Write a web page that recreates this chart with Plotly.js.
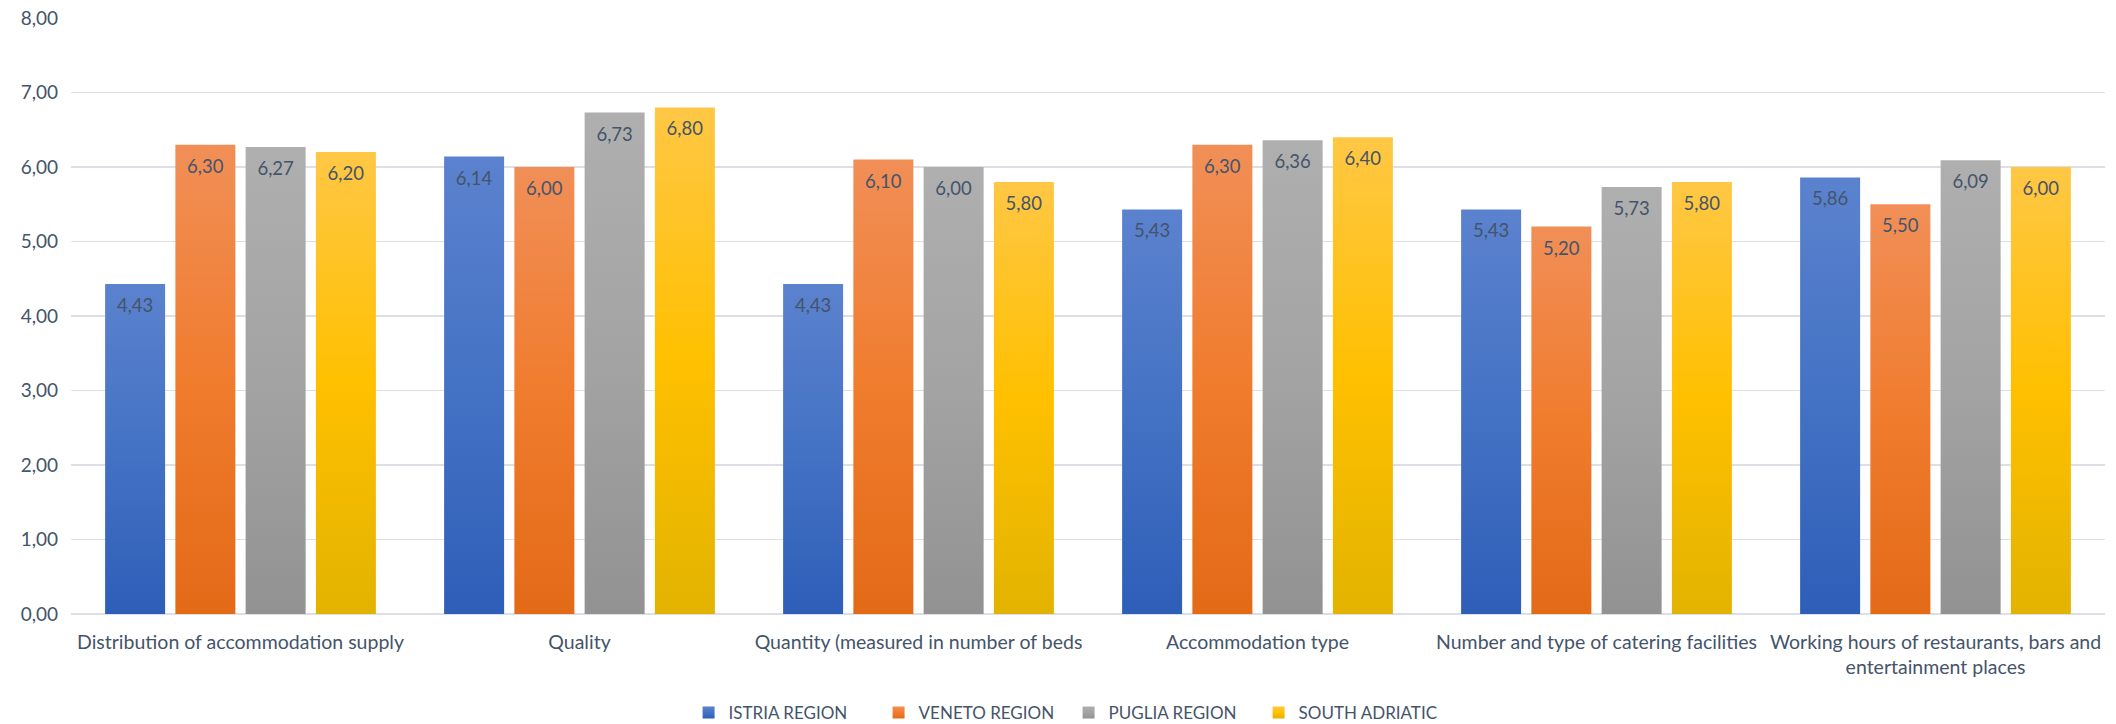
<!DOCTYPE html>
<html>
<head>
<meta charset="utf-8">
<script src="https://cdn.plot.ly/plotly-3.0.1.min.js"></script>
<style>
html,body{margin:0;padding:0;background:#fff;}
#chart{width:2116px;height:724px;}
</style>
</head>
<body>
<div id="chart"></div>
<script>
const categories = [
  "Distribution of accommodation supply",
  "Quality",
  "Quantity (measured in number of beds",
  "Accommodation type",
  "Number and type of catering facilities",
  "Working hours of restaurants, bars and<br>entertainment places"
];
const seriesNames = ["ISTRIA REGION", "VENETO REGION", "PUGLIA REGION", "SOUTH ADRIATIC"];
const istria = [4.43, 6.14, 4.43, 5.43, 5.43, 5.86];
const veneto = [6.30, 6.00, 6.10, 6.30, 5.20, 5.50];
const puglia = [6.27, 6.73, 6.00, 6.36, 5.73, 6.09];
const southAdriatic = [6.20, 6.80, 5.80, 6.40, 5.80, 6.00];
const yTicks = [0, 1, 2, 3, 4, 5, 6, 7, 8];

const seriesValues = [istria, veneto, puglia, southAdriatic];
const baseColors = ["#4472C4", "#ED7D31", "#A5A5A5", "#FFC000"];
const gradStops = [
  ["#5B82CE", "#4472C4", "#2E5EB8"],
  ["#F18F57", "#F07C2E", "#E36A17"],
  ["#AFAFAF", "#A3A3A3", "#929292"],
  ["#FFC745", "#FFC000", "#E2B300"]
];
const textColor = "#44546A";
const fontFam = "Lato, 'Open Sans', sans-serif";

const data = seriesValues.map((vals, i) => ({
  type: "bar",
  name: seriesNames[i],
  x: categories,
  y: vals,
  marker: {color: baseColors[i]},
  texttemplate: "%{y:.2f}",
  textposition: "inside",
  insidetextanchor: "end",
  constraintext: "none",
  textangle: 0,
  insidetextfont: {family: fontFam, size: 18.5, color: textColor},
  hoverinfo: "skip"
}));

const layout = {
  width: 2116,
  height: 724,
  paper_bgcolor: "#ffffff",
  plot_bgcolor: "#ffffff",
  separators: ",.",
  font: {family: fontFam, color: textColor},
  margin: {l: 71, r: 11, t: 18, b: 110, autoexpand: false},
  barmode: "group",
  bargap: 0.171,
  bargroupgap: 0.146,
  showlegend: true,
  legend: {
    orientation: "h",
    xref: "container",
    yref: "container",
    x: 0.505,
    xanchor: "center",
    y: 0.0152,
    yanchor: "middle",
    font: {family: fontFam, size: 17, color: textColor},
    itemwidth: 30,
    entrywidth: 145,
    entrywidthmode: "pixels",
    traceorder: "normal"
  },
  xaxis: {
    type: "category",
    tickfont: {family: fontFam, size: 19.5, color: textColor},
    ticks: "",
    showline: false,
    showgrid: false,
    zeroline: false,
    ticklabelstandoff: 14,
    tickangle: 0,
    automargin: false
  },
  yaxis: {
    range: [0, 8],
    tickvals: yTicks,
    tickformat: ".2f",
    tickfont: {family: fontFam, size: 19, color: textColor},
    showgrid: true,
    gridcolor: "#DCE0E6",
    gridwidth: 1.5,
    zeroline: true,
    zerolinecolor: "#DCE0E6",
    zerolinewidth: 2,
    showline: false,
    ticks: "",
    ticklabelstandoff: 12,
    automargin: false
  }
};

Plotly.newPlot("chart", data, layout, {staticPlot: true}).then(gd => {
  const svg = gd.querySelector(".main-svg");
  const ns = "http://www.w3.org/2000/svg";
  let defs = svg.querySelector("defs");
  if (!defs) { defs = document.createElementNS(ns, "defs"); svg.insertBefore(defs, svg.firstChild); }
  gradStops.forEach((stops, i) => {
    const lg = document.createElementNS(ns, "linearGradient");
    lg.setAttribute("id", "barGrad" + i);
    lg.setAttribute("x1", "0"); lg.setAttribute("y1", "0");
    lg.setAttribute("x2", "0"); lg.setAttribute("y2", "1");
    [0, 0.5, 1].forEach((off, k) => {
      const s = document.createElementNS(ns, "stop");
      s.setAttribute("offset", off);
      s.setAttribute("stop-color", stops[k]);
      lg.appendChild(s);
    });
    defs.appendChild(lg);
  });
  const traces = gd.querySelectorAll(".barlayer .trace.bars");
  traces.forEach((tr, i) => {
    tr.querySelectorAll(".point path").forEach(p => { p.style.fill = "url(#barGrad" + i + ")"; });
    tr.querySelectorAll(".bartext").forEach(t => {
      const tf = t.getAttribute("transform") || "";
      t.setAttribute("transform", "translate(0,7) " + tf);
    });
  });
  gd.querySelectorAll(".legend .traces").forEach((lt, i) => {
    lt.querySelectorAll(".legendpoints path").forEach(p => { p.style.fill = "url(#barGrad" + i + ")"; });
  });
});
</script>
</body>
</html>
